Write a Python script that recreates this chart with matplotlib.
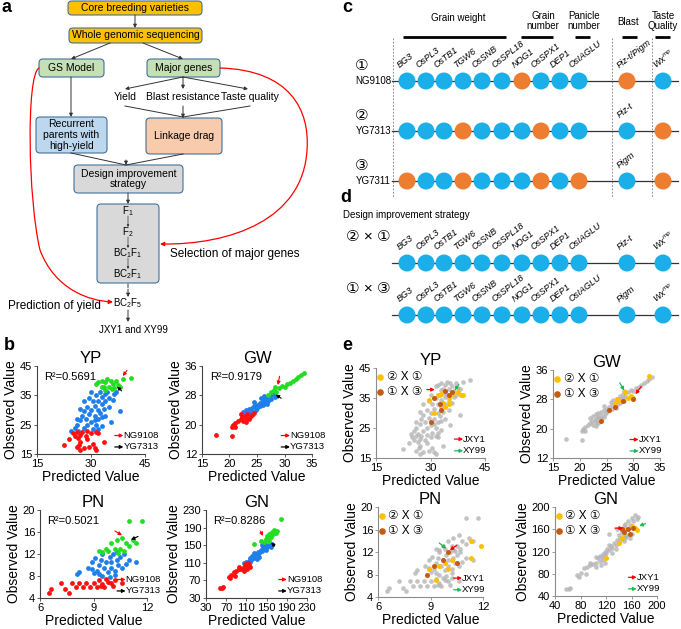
import matplotlib; matplotlib.use("agg")
import matplotlib.pyplot as plt
from matplotlib.patches import FancyBboxPatch, Circle, FancyArrowPatch
from matplotlib.path import Path

plt.rcParams['font.family'] = ['Liberation Sans', 'DejaVu Sans', 'Noto Sans CJK SC']
plt.rcParams['mathtext.fontset'] = 'custom'
plt.rcParams['mathtext.rm'] = 'Liberation Sans'
plt.rcParams['mathtext.it'] = 'Liberation Sans:italic'
plt.rcParams['mathtext.default'] = 'regular'

# ---- data ----
yp_red = [(22.5, 18), (24, 20), (25, 22), (25.5, 21), (26, 22.5), (26.5, 20.5), (27, 21.5), (27, 19),
          (26, 17.5), (27, 16.5), (28, 17), (28.5, 21), (29, 20), (29.5, 17.5), (30, 22), (30.5, 18.5),
          (31, 17), (31.5, 16.5), (31.5, 22.5), (32, 22), (33.5, 19), (27.5, 22.5), (29, 22.8), (26.8, 18.2)]
yp_blue = [(24.5, 23), (25.5, 24), (26, 25), (26.5, 23), (27, 26.5), (27.5, 28), (28, 24), (28, 29.5),
           (28.5, 27), (29, 31), (29, 25), (29.5, 28.5), (30, 30), (30, 26), (30.5, 33), (30.5, 23.5),
           (31, 28), (31, 31.5), (31.5, 35), (31.5, 25), (32, 30), (32, 33), (32, 27), (32.5, 36),
           (32.5, 29), (33, 32), (33, 34.5), (33, 24.5), (33.5, 30.5), (34, 35.5), (34, 28), (34, 33),
           (34.5, 36), (35, 31), (35, 34), (35.5, 26), (36, 33.5), (36.5, 35.5), (38, 29.5), (37, 36),
           (29.5, 34), (28, 33), (27, 30.5), (26, 27), (31, 26.5), (30, 36), (33, 27.5), (32, 23.5)]
yp_green = [(31.5, 39), (32, 39.5), (33, 40), (33.5, 38), (34, 39.5), (34.5, 40.5), (35, 38), (35.5, 40),
            (36, 39), (36.5, 37.5), (37, 40), (37.5, 38.5), (38, 38), (39, 40.5), (41, 41), (34, 36.8),
            (33, 37.8), (35.8, 37)]

gw_red = [(17.5, 17.2), (20.5, 17), (20.5, 19.5), (20.7, 20), (21, 19.3), (21, 20.5), (21.5, 21),
          (22, 21.5), (22.3, 22), (22.5, 21), (22.8, 22.5), (23, 21.8), (23.2, 22.8), (23.5, 21.5),
          (23.8, 22.2), (24, 22.6), (24.5, 23.2), (22, 22.8), (23, 20.8)]
gw_blue = [(22.5, 23.5), (23, 24), (23.5, 24.2), (24, 24.5), (24, 23.5), (24.5, 25), (25, 25.5),
           (25, 24.5), (25.5, 26), (25.5, 25), (26, 26.5), (26, 25.5), (26.5, 27), (26.5, 26), (27, 27.5),
           (27, 26.5), (27.5, 28), (27.5, 27), (28, 28.5), (24.5, 26.3), (23.5, 23.3), (25.8, 27.2),
           (26.8, 25.6), (28.2, 27.5), (24.8, 24), (26.2, 27.8)]
gw_green = [(27, 28.2), (27.5, 29), (28, 29.5), (28.5, 28.8), (29, 30), (29.5, 30.5), (30, 30.3),
            (30.5, 31), (31, 31.5), (31.5, 32), (32, 32.5), (32.5, 33), (33, 33.5), (33.5, 34), (28.2, 30.2)]

pn_red = [(6.5, 5), (6.6, 5.6), (7.2, 6.8), (7.4, 5.6), (7.6, 5), (7.8, 6.8), (8, 6), (8.2, 6.8),
          (8.4, 6), (8.6, 6.8), (8.8, 6), (9, 6.8), (9.2, 6), (9.3, 7.2), (9.5, 6.5), (9.6, 6),
          (9.8, 7), (10, 6.8), (10.2, 7.3), (9.4, 6.2), (9.7, 7.4), (10.6, 6.8), (10.1, 6.2)]
pn_blue = [(8.1, 8.3), (8.2, 8.8), (8.7, 9.5), (8.9, 10.5), (9, 8.5), (9.2, 9), (9.3, 10), (9.4, 11),
           (9.5, 8), (9.6, 9.5), (9.7, 10.5), (9.8, 8.8), (9.9, 11.5), (10, 9.5), (10, 10.5), (10.1, 12),
           (10.2, 9), (10.3, 11), (10.4, 10), (10.5, 11.5), (10.6, 9.5), (10.8, 10.2), (11, 11),
           (11.4, 10.6), (9.5, 12), (9.3, 8.3), (9.9, 7.8), (10.3, 12.3), (8.9, 9.2), (9.1, 11.2),
           (10.7, 12), (10.2, 8.2)]
pn_green = [(9.3, 12.6), (9.5, 12.3), (9.7, 13), (9.8, 12.5), (10, 14), (10.2, 13), (10.3, 14.5),
            (10.5, 13), (10.6, 15), (10.7, 12.5), (10.8, 14), (11, 13.5), (11.2, 14.5), (11.4, 14),
            (11, 18), (11.7, 18), (10.4, 12.2)]

gn_red = [(57, 53), (62, 52), (64, 55), (75, 78), (80, 82), (85, 90), (90, 92), (95, 95), (100, 97),
          (105, 100), (110, 103), (115, 105), (112, 96), (105, 92), (118, 100), (88, 80), (78, 75),
          (95, 100), (108, 108), (113, 110)]
gn_blue = [(105, 110), (110, 112), (115, 115), (118, 120), (120, 117), (122, 125), (125, 122),
           (128, 130), (130, 127), (132, 135), (135, 132), (138, 140), (140, 137), (142, 145),
           (145, 142), (148, 150), (150, 145), (152, 148), (155, 150), (160, 152), (125, 132),
           (118, 112), (135, 124), (140, 150), (148, 138), (130, 118), (145, 155), (158, 145)]
gn_green = [(125, 152), (138, 160), (145, 158), (148, 165), (150, 170), (152, 162), (155, 175),
            (158, 168), (160, 180), (162, 175), (165, 185), (168, 178), (170, 182), (178, 210), (155, 160)]

# crosses highlighted in panel e
yp_c21 = [(29.5, 34.5), (32, 36), (33.5, 33.5), (34, 32), (35, 35), (36, 36.5), (37.5, 37), (38.5, 36),
          (39, 36), (31, 30), (33, 36.5), (35, 33)]
yp_c13 = [(31, 35), (32.5, 33), (34, 37.5), (35, 36), (36, 37), (30, 27), (33, 31)]
gw_c21 = [(26.5, 27), (27, 28), (28.5, 30), (29, 28.5), (30, 28.5), (33, 34.5), (27.5, 27.5), (29.5, 29)]
gw_c13 = [(24, 22), (26.5, 26), (30, 28), (28, 27.5), (25.5, 25)]
pn_c21 = [(8.9, 9), (9.3, 7), (9.5, 9.5), (9.8, 10), (10, 9), (11.3, 11), (11.3, 14), (11.9, 13), (10.2, 10.5)]
pn_c13 = [(8.8, 8), (9.2, 9.5), (10, 12), (10.5, 10), (9.7, 10.5)]
gn_c21 = [(120, 108), (150, 160), (160, 165), (168, 158), (165, 163), (140, 135), (145, 145)]
gn_c13 = [(148, 155), (155, 160), (158, 152), (163, 162), (145, 160)]

traits = ['YP', 'GW', 'PN', 'GN']
r2_text = ['R²=0.5691', 'R²=0.9179', 'R²=0.5021', 'R²=0.8286']

genes = ['BG3', 'OsPL3', 'OsTB1', 'TGW6', 'OsSNB', 'OsSPL18', 'NOG1', 'OsSPX1', 'DEP1', 'OsIAGLU']
row_names = ['NG9108', 'YG7313', 'YG7311']
row_marks = ['①', '②', '③']
row_alleles = ['bbbbbbobbb', 'bbbobbbobb', 'obbobbbobo']
row_blast = ['Piz-t/Pigm', 'Piz-t', 'Pigm']
row_blast_allele = ['o', 'b', 'b']
row_wx_allele = ['b', 'o', 'o']

W, H = 681, 629
fig = plt.figure(figsize=(6.81, 6.29), dpi=100)
ax0 = fig.add_axes([0, 0, 1, 1])
ax0.set_xlim(0, W)
ax0.set_ylim(H, 0)
ax0.axis('off')

BLUE_C, ORANGE_C = '#1AAFE8', '#ED7D31'


def px_axes(x0, y0, x1, y1):
    return fig.add_axes([x0 / W, 1 - y1 / H, (x1 - x0) / W, (y1 - y0) / H])


def arrow(p0, p1, color='#333333', lw=0.7, ms=5, ls='-'):
    ax0.annotate('', xy=p1, xytext=p0,
                 arrowprops=dict(arrowstyle='-|>', color=color, lw=lw, mutation_scale=ms,
                                 shrinkA=0, shrinkB=0, linestyle=ls))


def box(x0, y0, x1, y1, text, fc, fs=7.5):
    ax0.add_patch(FancyBboxPatch((x0, y0), x1 - x0, y1 - y0, boxstyle='round,pad=0,rounding_size=4',
                                 fc=fc, ec='#41719C', lw=0.8))
    if text:
        ax0.text((x0 + x1) / 2, (y0 + y1) / 2, text, ha='center', va='center', fontsize=fs,
                 linespacing=1.1)


# ---- panel a: flowchart ----
box(68, 1, 202, 15, 'Core breeding varieties', '#FFC000')
arrow((135, 15), (135, 28))
box(69, 28, 202, 43, 'Whole genomic sequencing', '#FFC000')
arrow((110, 43), (71, 59))
arrow((143, 43), (183, 59))
box(39, 59, 104, 77, 'GS Model', '#C5E0B4')
box(147, 59, 220, 77, 'Major genes', '#C5E0B4')
for tx in [125, 183, 248]:
    arrow((183, 77), (tx, 89))
ax0.text(125, 97, 'Yield', ha='center', va='center', fontsize=7.5)
ax0.text(183, 97, 'Blast resistance', ha='center', va='center', fontsize=7.5)
ax0.text(250, 97, 'Taste quality', ha='center', va='center', fontsize=7.5)
for sx in [125, 250]:
    ax0.plot([sx, 183], [106, 117], color='#333333', lw=0.7)
arrow((183, 106), (183, 118))
box(146, 118, 222, 154, 'Linkage drag', '#F8CBAD')
arrow((71, 77), (71, 117))
box(36, 117, 107, 153, 'Recurrent\nparents with\nhigh-yield', '#BDD7EE')
ax0.plot([71, 126], [153, 165], color='#333333', lw=0.7)
ax0.plot([183, 126], [154, 165], color='#333333', lw=0.7)
arrow((126, 160), (126, 165))
box(74, 165, 183, 193, 'Design improvement\nstrategy', '#D9D9D9')
arrow((128, 193), (128, 204))
box(97, 204, 159, 283, '', '#D9D9D9')
gen_steps = ['F$_1$', 'F$_2$', 'BC$_1$F$_1$', 'BC$_2$F$_1$']
gen_y = [211, 232, 253, 274]
for i, (s, gy) in enumerate(zip(gen_steps, gen_y)):
    ax0.text(128, gy, s, ha='center', va='center', fontsize=7)
    if i < 3:
        arrow((128, gy + 5), (128, gen_y[i + 1] - 5), ms=3, lw=0.5)
arrow((128, 284), (128, 297), ls='--')
ax0.text(128, 303, 'BC$_2$F$_5$', ha='center', va='center', fontsize=7)
arrow((128, 310), (128, 322))
ax0.text(133, 330, 'JXY1 and XY99', ha='center', va='center', fontsize=7)
ax0.text(8, 306, 'Prediction of yield', ha='left', va='center', fontsize=8.5)
ax0.text(170, 254, 'Selection of major genes', ha='left', va='center', fontsize=8.5)

p1 = Path([(39, 68), (26, 75), (28, 200), (40, 250), (55, 290), (90, 301), (113, 302)],
          [Path.MOVETO, Path.CURVE4, Path.CURVE4, Path.CURVE4, Path.CURVE4, Path.CURVE4, Path.CURVE4])
p2 = Path([(220, 68), (290, 70), (310, 110), (307, 150), (303, 220), (230, 245), (160, 244)],
          [Path.MOVETO, Path.CURVE4, Path.CURVE4, Path.CURVE4, Path.CURVE4, Path.CURVE4, Path.CURVE4])
for p in [p1, p2]:
    ax0.add_patch(FancyArrowPatch(path=p, arrowstyle='-|>', color='red', lw=0.9, mutation_scale=6))

# ---- panel c ----
gene_x = [407, 426, 444, 463, 482, 502, 522, 541, 560, 579]
blast_x, wx_x = 627, 663
R = 8.5
headers = [(458, 18, 'Grain weight', 403, 506), (543, 21, 'Grain\nnumber', 521, 553),
           (584, 21, 'Panicle\nnumber', 575, 590), (628, 22, 'Blast', 622, 637),
           (663, 21, 'Taste\nQuality', 655, 670)]
for hx, hy, ht, l0, l1 in headers:
    ax0.text(hx, hy, ht, ha='center', va='center', fontsize=7, linespacing=1.1)
    ax0.plot([l0, l1], [37, 37], color='black', lw=2, solid_capstyle='butt')
for vx in [393, 612, 652]:
    ax0.plot([vx, vx], [38, 197], color='#777777', lw=0.6, ls=(0, (2, 2)))


def gene_row(cy, alleles, blast_al, wx_al, blast_lab, label_all=False, lab_y=None):
    ax0.plot([392, 678], [cy, cy], color='#333333', lw=0.9, zorder=1)
    xs = gene_x + [blast_x, wx_x]
    cols = list(alleles) + [blast_al, wx_al]
    for x, c in zip(xs, cols):
        ax0.add_patch(Circle((x, cy), R, fc=BLUE_C if c == 'b' else ORANGE_C, ec='none', zorder=2))
    ly = cy - 11 if lab_y is None else lab_y
    if label_all:
        for x, g in zip(gene_x, genes):
            ax0.text(x - 6, ly, g, rotation=38, rotation_mode='anchor', ha='left', va='bottom',
                     fontsize=6.5, style='italic')
        ax0.text(wx_x - 6, ly, 'Wx$^{\\mathit{mp}}$', rotation=38, rotation_mode='anchor', ha='left',
                 va='bottom', fontsize=6.5, style='italic')
    ax0.text(blast_x - 6, ly, blast_lab, rotation=38, rotation_mode='anchor', ha='left', va='bottom',
             fontsize=6.5, style='italic')


row_y = [81, 131, 181]
for i in range(3):
    ax0.text(362, row_y[i] - 15, row_marks[i], ha='center', va='center', fontsize=11)
    ax0.text(391, row_y[i], row_names[i], ha='right', va='center', fontsize=7)
    gene_row(row_y[i], row_alleles[i], row_blast_allele[i], row_wx_allele[i], row_blast[i],
             label_all=(i == 0))

# ---- panel d ----
ax0.text(343, 215, 'Design improvement strategy', ha='left', va='center', fontsize=7)
ax0.text(346, 237, '② × ①', ha='left', va='center', fontsize=11)
gene_row(263, 'b' * 10, 'b', 'b', 'Piz-t', label_all=True, lab_y=252)
ax0.text(346, 289, '① × ③', ha='left', va='center', fontsize=11)
gene_row(315, 'b' * 10, 'b', 'b', 'Pigm', label_all=True, lab_y=304)

# panel letters
for lx, ly, lt in [(2, 8, 'a'), (4, 346, 'b'), (342, 8, 'c'), (340, 198, 'd'), (342, 346, 'e')]:
    ax0.text(lx, ly, lt, ha='left', va='center', fontsize=13, fontweight='bold')

# ---- scatter panels ----
b_boxes = [(37, 366, 145, 454), (202, 366, 312, 454), (40, 510, 147, 598), (206, 510, 307, 598)]
e_boxes = [(376, 368, 485, 458), (553, 370, 660, 458), (378, 507, 483, 597), (555, 507, 657, 596)]
b_lims = [((15, 45), (15, 45)), ((15, 35), (12, 36)), ((6, 12), (4, 20)), ((30, 230), (30, 230))]
e_lims = [((15, 45), (15, 45)), ((15, 35), (12, 36)), ((6, 12), (4, 20)), ((40, 200), (40, 200))]
b_xt = [[15, 30, 45], [15, 20, 25, 30, 35], [6, 9, 12], [30, 70, 110, 150, 190, 230]]
b_yt = [[15, 25, 35, 45], [12, 20, 28, 36], [4, 8, 12, 16, 20], [30, 70, 110, 150, 190, 230]]
e_xt = [[15, 30, 45], [15, 20, 25, 30, 35], [6, 9, 12], [40, 80, 120, 160, 200]]
e_yt = [[15, 25, 35, 45], [12, 20, 28, 36], [4, 8, 12, 16, 20], [40, 80, 120, 160, 200]]
groups = [(yp_red, yp_blue, yp_green), (gw_red, gw_blue, gw_green),
          (pn_red, pn_blue, pn_green), (gn_red, gn_blue, gn_green)]
crosses = [(yp_c21, yp_c13), (gw_c21, gw_c13), (pn_c21, pn_c13), (gn_c21, gn_c13)]
# arrows pointing at NG9108 (red) / YG7313 (black) in b and JXY1 (red) / XY99 (green) in e
b_arrows = [[((40, 43.5), (38.8, 41.6)), ((38.5, 36.5), (37.2, 38))],
            [((29.1, 33.2), (28.8, 30.8)), ((29.4, 27.2), (28.4, 28.2))],
            [((10.2, 16.2), (10.6, 15.4)), ((11.5, 15.2), (11.1, 14.6))],
            [((138, 182), (143, 171)), ((166, 148), (159, 156))]]
e_arrows = [[((29, 37.8), (31.2, 37.8)), ((37.8, 39.5), (36.6, 37.6))],
            [((31.5, 31.5), (30.4, 29.4)), ((27.5, 32.5), (28.3, 30.4))],
            [((10.5, 13.2), (10.1, 12.3)), ((9.5, 13.6), (9.9, 12.6))],
            [((134, 162), (147, 162)), ((182, 170), (172, 166))]]


def style_axes(ax, xlim, ylim, xt, yt, title, spine_col):
    ax.set_xlim(*xlim)
    ax.set_ylim(*ylim)
    ax.set_xticks(xt)
    ax.set_yticks(yt)
    ax.spines[['top', 'right']].set_visible(False)
    for s in ['left', 'bottom']:
        ax.spines[s].set_color(spine_col)
        ax.spines[s].set_linewidth(0.8)
    ax.tick_params(labelsize=8, length=2, width=0.6, color=spine_col, pad=1.5)
    ax.set_title(title, fontsize=12, pad=0)
    ax.set_xlabel('Predicted Value', fontsize=10, labelpad=1)
    ax.set_ylabel('Observed Value', fontsize=10, labelpad=1)
    ax.set_facecolor('none')


def legend_arrows(ax, cols, labels):
    for yy, c, lab in zip([0.21, 0.08], cols, labels):
        ax.annotate('', xy=(0.8, yy), xytext=(0.72, yy), xycoords='axes fraction',
                    arrowprops=dict(arrowstyle='-|>', color=c, lw=0.9, mutation_scale=5,
                                    shrinkA=0, shrinkB=0), annotation_clip=False)
        ax.text(0.8, yy, lab, transform=ax.transAxes, ha='left', va='center', fontsize=6.8,
                clip_on=False)


for i in range(4):
    red, blue, green = groups[i]
    # panel b
    ax = px_axes(*b_boxes[i])
    for pts, col in [(blue, '#1F7FEA'), (red, '#FF1010'), (green, '#22DD22')]:
        ax.scatter([p[0] for p in pts], [p[1] for p in pts], s=12, color=col, lw=0, clip_on=False)
    style_axes(ax, b_lims[i][0], b_lims[i][1], b_xt[i], b_yt[i], traits[i], '#404040')
    ax.text(0.07, 0.88, r2_text[i], transform=ax.transAxes, fontsize=8, va='center')
    for (p0, p1), c in zip(b_arrows[i], ['red', 'black']):
        ax.annotate('', xy=p1, xytext=p0,
                    arrowprops=dict(arrowstyle='-|>', color=c, lw=0.8, mutation_scale=5,
                                    shrinkA=0, shrinkB=0))
    legend_arrows(ax, ['red', 'black'], ['NG9108', 'YG7313'])

    # panel e
    ax = px_axes(*e_boxes[i])
    allp = red + blue + green
    ax.scatter([p[0] for p in allp], [p[1] for p in allp], s=11, color='#B4B4B4', alpha=0.8, lw=0)
    c21, c13 = crosses[i]
    ax.scatter([p[0] for p in c21], [p[1] for p in c21], s=13, color='#FFC000', lw=0)
    ax.scatter([p[0] for p in c13], [p[1] for p in c13], s=13, color='#C55A11', lw=0)
    style_axes(ax, e_lims[i][0], e_lims[i][1], e_xt[i], e_yt[i], traits[i], '#8C8C8C')
    ax.scatter([0.04], [0.9], s=14, color='#FFC000', transform=ax.transAxes, clip_on=False)
    ax.scatter([0.04], [0.73], s=14, color='#C55A11', transform=ax.transAxes, clip_on=False)
    ax.text(0.1, 0.9, '② X ①', transform=ax.transAxes, fontsize=8.5, va='center')
    ax.text(0.1, 0.73, '① X ③', transform=ax.transAxes, fontsize=8.5, va='center')
    for (p0, p1), c in zip(e_arrows[i], ['red', '#1DB954']):
        ax.annotate('', xy=p1, xytext=p0,
                    arrowprops=dict(arrowstyle='-|>', color=c, lw=0.9, mutation_scale=5,
                                    shrinkA=0, shrinkB=0))
    legend_arrows(ax, ['red', '#1DB954'], ['JXY1', 'XY99'])

fig.savefig('out.png', dpi=100)
